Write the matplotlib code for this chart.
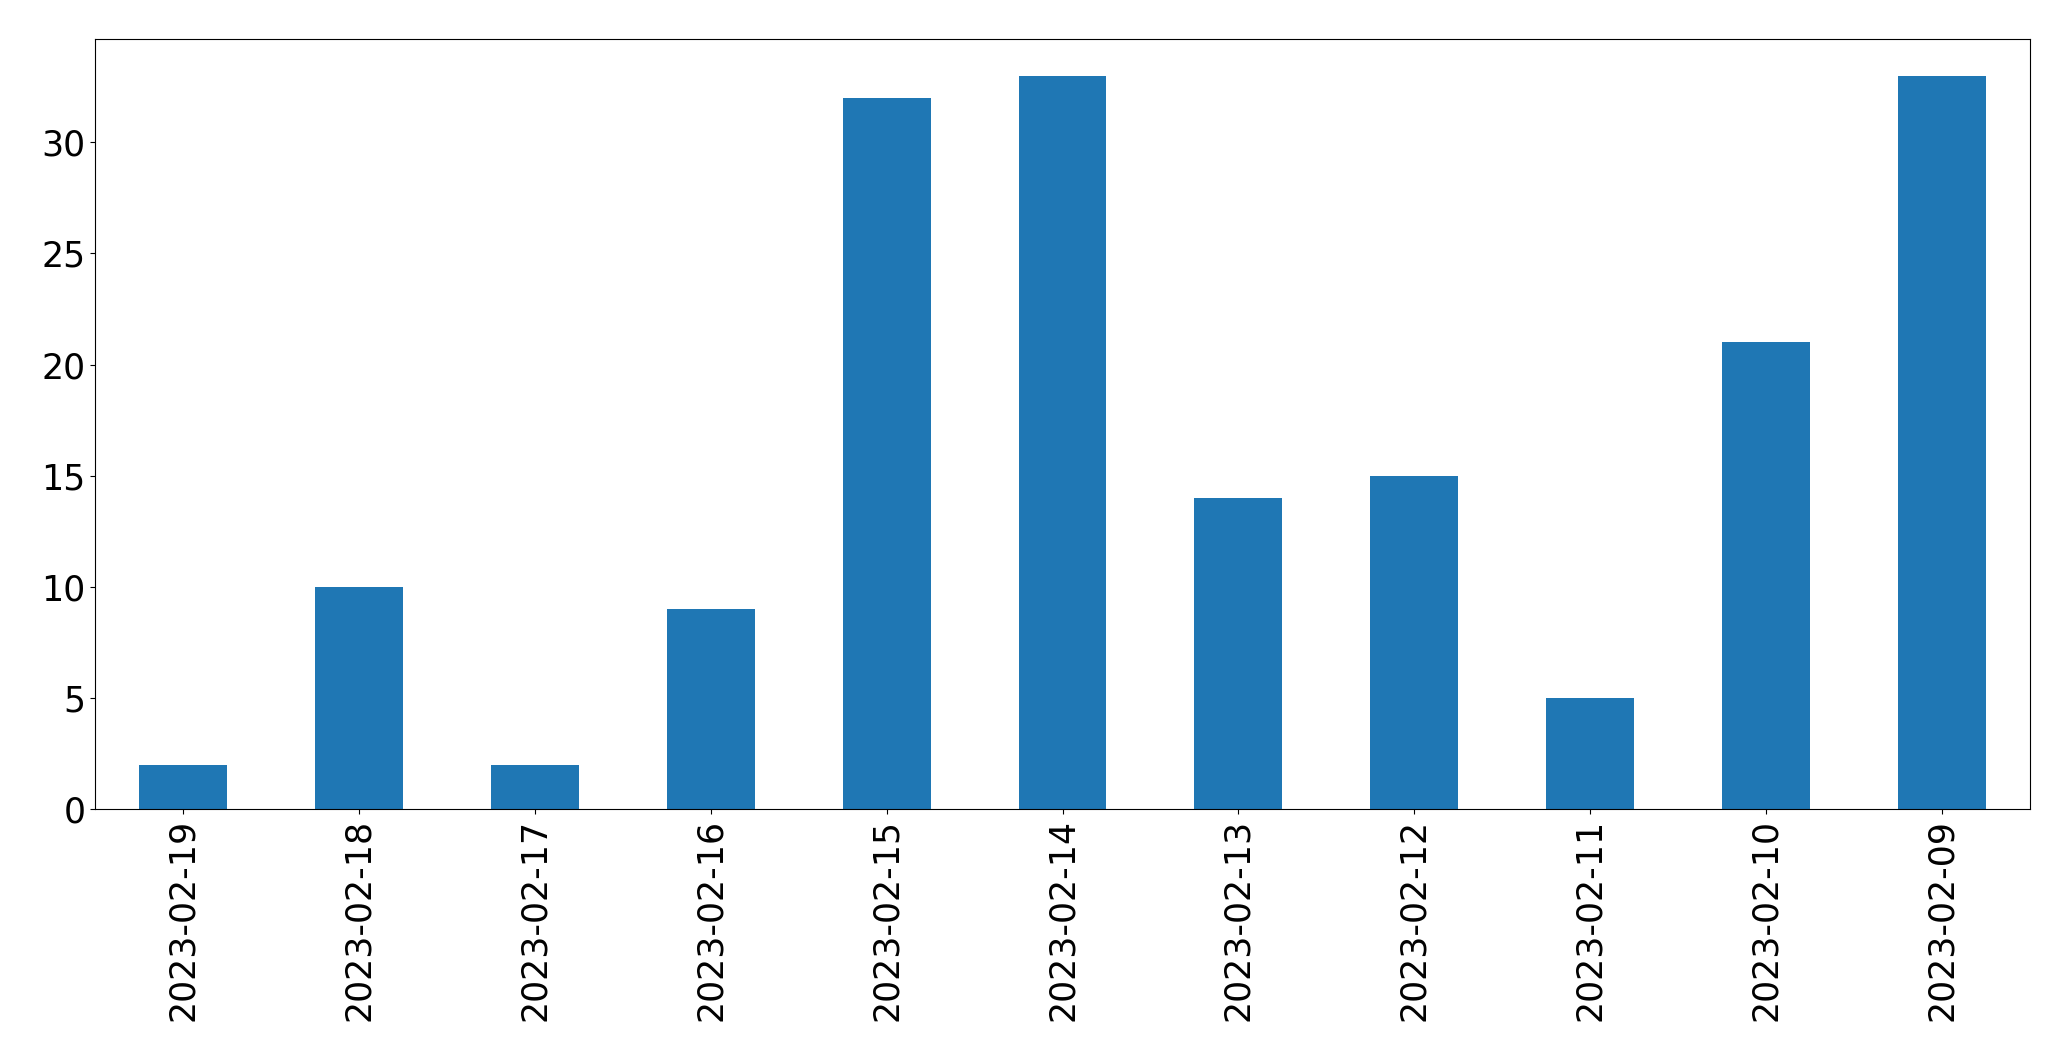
import matplotlib
matplotlib.use("Agg")
import matplotlib.pyplot as plt

# daily counts, newest first (as in the original)
dates = ["2023-02-19", "2023-02-18", "2023-02-17", "2023-02-16", "2023-02-15",
         "2023-02-14", "2023-02-13", "2023-02-12", "2023-02-11", "2023-02-10",
         "2023-02-09"]
counts = [2, 10, 2, 9, 32, 33, 14, 15, 5, 21, 33]

plt.rcParams["font.size"] = 25

fig = plt.figure(figsize=(20.71, 10.61), dpi=100)
ax = fig.add_axes([95 / 2071, 252 / 1061, 1935 / 2071, 770 / 1061])

x = list(range(len(dates)))
ax.bar(x, counts, width=0.5, color="#1f77b4")
ax.set_xticks(x)
ax.set_xticklabels(dates, rotation=90)
ax.set_xlim(-0.5, len(dates) - 0.5)
ax.set_ylim(0, max(counts) * 1.05)

fig.savefig("out.png", dpi=100)
